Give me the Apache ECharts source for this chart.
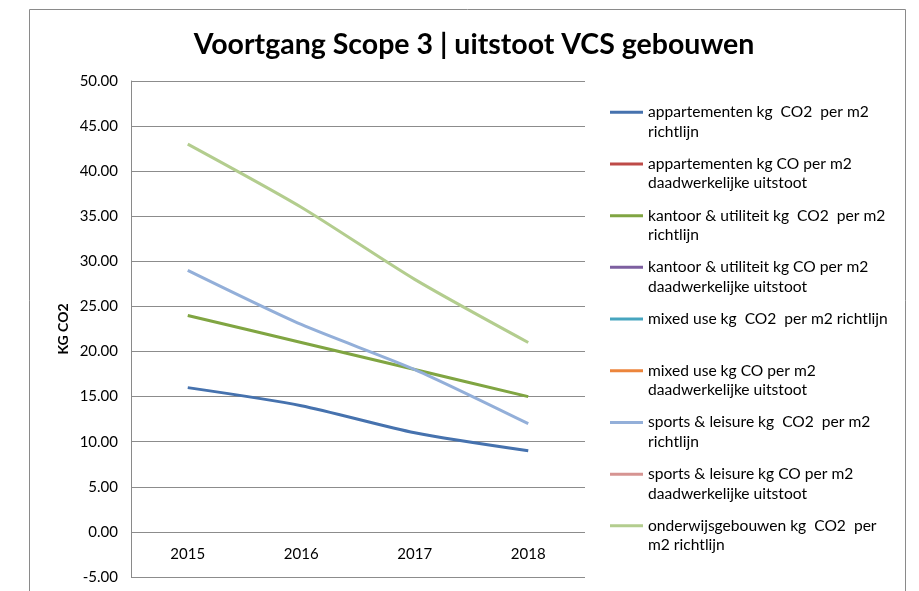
<!DOCTYPE html>
<html>
<head>
<meta charset="utf-8">
<script src="https://cdn.jsdelivr.net/npm/echarts@6/dist/echarts.min.js"></script>
<style>html,body{margin:0;padding:0;background:#fff;}#c{width:919px;height:591px;}</style>
</head>
<body>
<div id="c"></div>
<script>
const years = ['2015', '2016', '2017', '2018'];
const appRichtlijn = [16, 14, 11, 9];
const appDaad = [null, null, null, null];
const kantoorRichtlijn = [24, 21, 18, 15];
const kantoorDaad = [null, null, null, null];
const mixedRichtlijn = [null, null, null, null];
const mixedDaad = [null, null, null, null];
const sportsRichtlijn = [29, 23, 18, 12];
const sportsDaad = [null, null, null, null];
const onderwijsRichtlijn = [43, 36, 28, 21];

const names = [
  'appartementen kg  CO2  per m2 richtlijn',
  'appartementen kg CO per m2 daadwerkelijke uitstoot',
  'kantoor & utiliteit kg  CO2  per m2 richtlijn',
  'kantoor & utiliteit kg CO per m2 daadwerkelijke uitstoot',
  'mixed use kg  CO2  per m2 richtlijn',
  'mixed use kg CO per m2 daadwerkelijke uitstoot',
  'sports & leisure kg  CO2  per m2 richtlijn',
  'sports & leisure kg CO per m2 daadwerkelijke uitstoot',
  'onderwijsgebouwen kg  CO2  per m2 richtlijn'
];
const legendLines = {};
legendLines[names[0]] = ['appartementen kg  CO2  per m2', 'richtlijn'];
legendLines[names[1]] = ['appartementen kg CO per m2', 'daadwerkelijke uitstoot'];
legendLines[names[2]] = ['kantoor & utiliteit kg  CO2  per m2', 'richtlijn'];
legendLines[names[3]] = ['kantoor & utiliteit kg CO per m2', 'daadwerkelijke uitstoot'];
legendLines[names[4]] = ['mixed use kg  CO2  per m2 richtlijn', '\u00a0'];
legendLines[names[5]] = ['mixed use kg CO per m2', 'daadwerkelijke uitstoot'];
legendLines[names[6]] = ['sports & leisure kg  CO2  per m2', 'richtlijn'];
legendLines[names[7]] = ['sports & leisure kg CO per m2', 'daadwerkelijke uitstoot'];
legendLines[names[8]] = ['onderwijsgebouwen kg  CO2  per', 'm2 richtlijn'];

const values = [appRichtlijn, appDaad, kantoorRichtlijn, kantoorDaad, mixedRichtlijn, mixedDaad, sportsRichtlijn, sportsDaad, onderwijsRichtlijn];
const colors = ['#4672AE', '#BE4B48', '#80A542', '#7D5FA0', '#46A5BF', '#EC853C', '#93AFD9', '#D69492', '#B3CD8E'];

const FONT = 'Lato';
const chart = echarts.init(document.getElementById('c'));
chart.setOption({
  animation: false,
  color: colors,
  textStyle: { fontFamily: FONT },
  title: {
    text: 'Voortgang Scope 3 | uitstoot VCS gebouwen',
    left: 469, textAlign: 'center', top: 25,
    textStyle: { fontFamily: FONT, fontSize: 28.5, fontWeight: 'bold', color: '#000' }
  },
  graphic: [{
    type: 'rect', silent: true, z: -1,
    shape: { x: 29.5, y: 9.5, width: 876, height: 620 },
    style: { fill: 'none', stroke: '#8a8a8a', lineWidth: 1 }
  }],
  legend: {
    orient: 'vertical', left: 610, top: 83, padding: 0,
    itemWidth: 33, itemHeight: 3, itemGap: -6.8, icon: 'rect',
    data: names,
    formatter: function (n) { return '\u00a0\n' + legendLines[n].join('\n'); },
    textStyle: { fontFamily: FONT, fontSize: 15.6, lineHeight: 19.5, color: '#000' }
  },
  grid: { left: 131, top: 81, right: 334, bottom: 14, outerBoundsMode: 'none', containLabel: false },
  xAxis: {
    type: 'category', data: years, boundaryGap: true,
    axisLine: { show: false, onZero: false },
    axisTick: { show: false },
    axisLabel: { color: '#000', fontSize: 15, margin: -30, fontFamily: FONT }
  },
  yAxis: {
    type: 'value', min: -5, max: 50, interval: 5,
    name: 'KG CO2', nameLocation: 'middle', nameRotate: 90, nameGap: 61,
    nameTextStyle: { fontFamily: FONT, fontSize: 14, fontWeight: 'bold', color: '#000' },
    axisLine: { show: true, lineStyle: { color: '#8a8a8a' } },
    axisTick: { show: false },
    axisLabel: { color: '#000', fontSize: 15, margin: 13, fontFamily: FONT, formatter: v => v.toFixed(2) },
    splitLine: { lineStyle: { color: '#8c8c8c', width: 1 } }
  },
  series: names.map((n, i) => ({
    name: n, type: 'line', data: values[i], smooth: 0.25,
    showSymbol: false, symbol: 'none',
    lineStyle: { width: 3, color: colors[i] },
    itemStyle: { color: colors[i] }
  }))
});
</script>
</body>
</html>
